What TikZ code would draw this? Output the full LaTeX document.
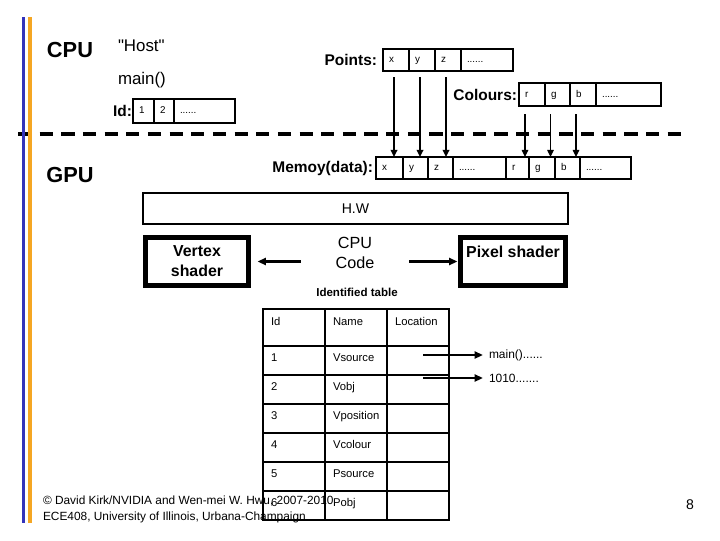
\documentclass[tikz,border=0pt]{standalone}
\usepackage{fontspec}
\setmainfont{Liberation Sans}
\usetikzlibrary{positioning,arrows.meta}
\newlength\unidad
\setlength\unidad{0.025cm}
\definecolor{azulbarra}{RGB}{51,51,187}
\definecolor{naranjabarra}{RGB}{245,166,35}

\begin{document}
\begin{tikzpicture}[x=0.025cm, y=-0.025cm,
      every node/.style={inner sep=0pt, outer sep=0pt, font=\fontsize{11}{13}\selectfont},
      titulo/.style={font=\fontsize{15.5}{18}\selectfont\bfseries},
      etiqueta/.style={font=\fontsize{11}{13}\selectfont\bfseries},
      texto/.style={anchor=west, font=\fontsize{12}{14}\selectfont},
      celda/.style={draw, line width=1.1pt, minimum height=22\unidad, inner xsep=6\unidad, text width=#1\unidad, text height=5\unidad, text depth=0pt, align=left, font=\fontsize{7}{8}\selectfont},
      tabla/.style={draw, line width=1.4pt, inner xsep=8\unidad, inner ysep=0pt, text width=46\unidad, align=left, text height=15\unidad, text depth=14\unidad, anchor=north west, font=\fontsize{8}{9}\selectfont},
      cabecera/.style={tabla, text height=16\unidad, text depth=21\unidad},
      sombreador/.style={draw, line width=3.5pt, minimum height=48\unidad, align=center, font=\fontsize{11.3}{14.2}\selectfont\bfseries},
      bajada/.style={-{Triangle[width=4.6pt,length=5pt]}, line width=1.4pt},
      bajadafina/.style={bajada, line width=0.8pt},
      flecha/.style={-{Triangle[width=5pt,length=6pt]}, line width=1.5pt}
    ]
    \useasboundingbox (0,0) rectangle (720,540);
    % Separacion CPU / GPU y barras laterales
    \draw[line width=2.8pt, dash pattern=on 9.4pt off 6pt] (18,134) -- (682,134);
    \draw[azulbarra, line width=2.1pt] (23.5,17) -- (23.5,523);
    \draw[naranjabarra, line width=2.5pt] (30,17) -- (30,523);
    % Lado CPU
    \node[titulo] (cpu) at (70,50) {CPU};
    \node[texto] (host) at (118,46) {\textquotedbl Host\textquotedbl};
    \node[texto] (mainfn) at (118,80) {main()};
    \node[celda=9, minimum height=24\unidad, anchor=west] (i1) at (133,111) {1};
    \node[celda=8, minimum height=24\unidad, right=0pt of i1] (i2) {2};
    \node[celda=49, minimum height=24\unidad, right=0pt of i2] (ir) {......};
    \node[etiqueta, left=1\unidad of i1] (idlbl) {Id:};
    \node[celda=14, anchor=west] (px) at (383,60) {x};
    \node[celda=14, right=0pt of px] (py) {y};
    \node[celda=14, right=0pt of py] (pz) {z};
    \node[celda=40, right=0pt of pz] (pr) {......};
    \node[etiqueta, left=6\unidad of px] (ptslbl) {Points:};
    \node[celda=14, minimum height=23\unidad, anchor=west] (cr) at (519,94.5) {r};
    \node[celda=13, minimum height=23\unidad, right=0pt of cr] (cg) {g};
    \node[celda=14, minimum height=23\unidad, right=0pt of cg] (cb) {b};
    \node[celda=53, minimum height=23\unidad, right=0pt of cb] (cd) {......};
    \node[etiqueta, left=2\unidad of cr] (collbl) {Colours:};
    % Lado GPU: memoria
    \node[titulo] (gpu) at (70,175) {GPU};
    \node[celda=15, anchor=west] (mx) at (376,168) {x};
    \node[celda=13, right=0pt of mx] (my) {y};
    \node[celda=13, right=0pt of my] (mz) {z};
    \node[celda=41, right=0pt of mz] (md) {......};
    \node[celda=11, right=0pt of md] (mr) {r};
    \node[celda=14, right=0pt of mr] (mg) {g};
    \node[celda=13, right=0pt of mg] (mb) {b};
    \node[celda=39, right=0pt of mb] (me) {......};
    \node[etiqueta, left=3\unidad of mx] (memlbl) {Memoy(data):};
    % Copias de host a memoria
    \foreach \c in {px,py,pz}
      \draw[bajada] ([xshift=-2\unidad, yshift=-6\unidad]\c.south) -- ([xshift=-2\unidad]\c.south |- mx.north);
    \foreach \c in {cr,cg,cb}
      \draw[bajadafina] ([xshift=-7\unidad, yshift=-8\unidad]\c.south) -- ([xshift=-7\unidad]\c.south |- mx.north);
    % Hardware y sombreadores
    \node[draw, line width=1pt, minimum width=425\unidad, minimum height=31\unidad, font=\fontsize{10}{12}\selectfont] (hw) at (355.5,208.5) {H.W};
    \node[sombreador, minimum width=103\unidad] (vertex) at (197,261.5) {Vertex\\shader};
    \node[sombreador, minimum width=105\unidad] (pixel) at (513,261.5) {Pixel shader\\~};
    \node[align=center, inner xsep=35\unidad, font=\fontsize{11.5}{14.2}\selectfont] (cpucode) at (355,253) {CPU\\Code};
    \draw[flecha, shorten >=9\unidad] (cpucode.west |- vertex.east) -- (vertex.east);
    \draw[flecha, shorten >=3\unidad] (cpucode.east |- pixel.west) -- (pixel.west);
    % Tabla de identificadores
    \node[font=\fontsize{8.2}{10}\selectfont\bfseries] (tabtit) at (357,292) {Identified table};
    \node[cabecera] (hid) at (263,309) {Id};
    \node[cabecera, right=0pt of hid] (hnm) {Name};
    \node[cabecera, right=0pt of hnm] (hlc) {Location};
    \foreach \n/\nombre [count=\r] in {1/Vsource, 2/Vobj, 3/Vposition, 4/Vcolour, 5/Psource, 6/Pobj} {
      \node[tabla] (id\r) at (263,{346+29*(\r-1)}) {\n};
      \node[tabla, right=0pt of id\r] (nm\r) {\nombre};
      \node[tabla, right=0pt of nm\r] (lc\r) {};
    }
    \node[anchor=west, font=\fontsize{8.5}{10}\selectfont] (srcmain) at (489,355) {main()......};
    \node[anchor=west, font=\fontsize{8.5}{10}\selectfont] (srcobj) at (489,378) {1010.......};
    \draw[flecha, shorten >=6\unidad] ([xshift=5\unidad]lc1.center |- srcmain.west) -- (srcmain.west);
    \draw[flecha, shorten >=6\unidad] ([xshift=5\unidad]lc1.center |- srcobj.west) -- (srcobj.west);
    % Pie de pagina
    \node[anchor=west, align=left, font=\fontsize{8.45}{11.4}\selectfont] (pie) at (43,509) {© David Kirk/NVIDIA and Wen-mei W. Hwu, 2007-2010\\ECE408, University of Illinois, Urbana-Champaign};
    \node[font=\fontsize{10}{12}\selectfont] (pagina) at (690,505) {8};
  \end{tikzpicture}
\end{document}
